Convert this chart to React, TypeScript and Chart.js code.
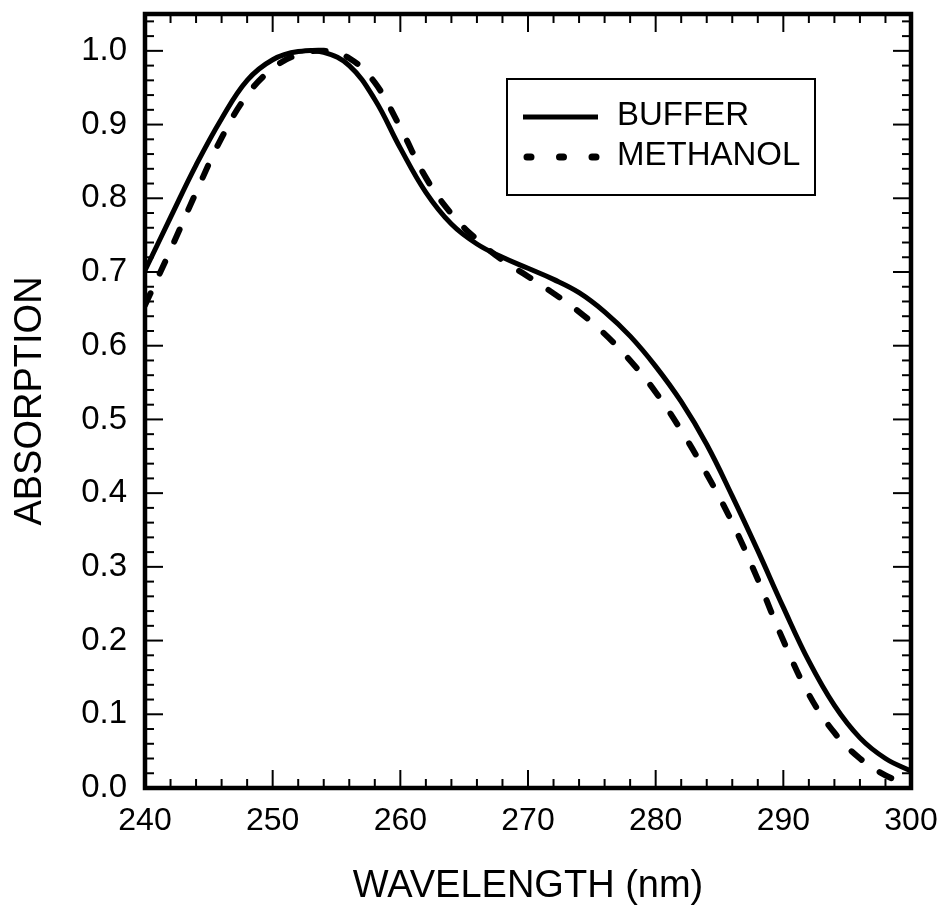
import React, { useEffect, useRef } from "react";
import { Chart, registerables } from "chart.js";

Chart.register(...registerables);

// ---- data ----
const bufferWavelengths = [240, 242, 244, 246, 248, 250, 252, 254, 256, 258, 260, 262, 264, 266, 268, 270, 272, 274, 276, 278, 280, 282, 284, 286, 288, 290, 292, 294, 296, 298, 300];
const bufferAbsorption = [0.702, 0.774, 0.845, 0.908, 0.96, 0.988, 0.999, 0.998, 0.98, 0.934, 0.868, 0.808, 0.765, 0.738, 0.72, 0.705, 0.69, 0.672, 0.646, 0.613, 0.572, 0.524, 0.466, 0.396, 0.322, 0.245, 0.172, 0.112, 0.068, 0.04, 0.023];

const methanolWavelengths = [240, 242, 244, 246, 248, 250, 252, 254, 256, 258, 260, 262, 264, 266, 268, 270, 272, 274, 276, 278, 280, 282, 284, 286, 288, 290, 292, 294, 296, 298, 299];
const methanolAbsorption = [0.655, 0.73, 0.808, 0.882, 0.94, 0.976, 0.995, 1.0, 0.99, 0.957, 0.896, 0.828, 0.779, 0.744, 0.716, 0.694, 0.671, 0.646, 0.616, 0.58, 0.537, 0.485, 0.426, 0.36, 0.283, 0.2, 0.127, 0.075, 0.04, 0.017, 0.01];

const seriesLabels = ["BUFFER", "METHANOL"];
const xTickValues = [240, 250, 260, 270, 280, 290, 300];
const xTickLabels = ["240", "250", "260", "270", "280", "290", "300"];
const yTickValues = [0, 0.1, 0.2, 0.3, 0.4, 0.5, 0.6, 0.7, 0.8, 0.9, 1.0];
const yTickLabels = ["0.0", "0.1", "0.2", "0.3", "0.4", "0.5", "0.6", "0.7", "0.8", "0.9", "1.0"];
const xTitle = "WAVELENGTH (nm)";
const yTitle = "ABSORPTION";

const xMin = 240, xMax = 300, xMinorStep = 2, xMajorStep = 10;
const yMin = 0, yMax = 1.05, yMinorStep = 0.02, yMajorStep = 0.1;

const FONT = "'Liberation Sans', Arial, Helvetica, sans-serif";

const toPoints = (xs: number[], ys: number[]) => xs.map((x, i) => ({ x, y: ys[i] }));

const framePlugin = {
  id: "frameTicksLegend",
  afterDatasetsDraw(chart: any) {
    const { ctx, chartArea: a, scales } = chart;
    const xs = scales.x, ys = scales.y;
    ctx.save();
    ctx.strokeStyle = "#000";
    ctx.lineCap = "butt";
    ctx.lineWidth = 2;
    const seg = (x1: number, y1: number, x2: number, y2: number) => {
      ctx.beginPath();
      ctx.moveTo(x1, y1);
      ctx.lineTo(x2, y2);
      ctx.stroke();
    };
    const nX = Math.round((xMax - xMin) / xMinorStep);
    for (let i = 0; i <= nX; i++) {
      const v = xMin + i * xMinorStep;
      const px = xs.getPixelForValue(v);
      const major = Math.abs(v / xMajorStep - Math.round(v / xMajorStep)) < 1e-6;
      const len = major ? 18 : 9;
      seg(px, a.bottom, px, a.bottom - len);
      seg(px, a.top, px, a.top + len);
    }
    const nY = Math.floor((yMax - yMin) / yMinorStep + 1e-6);
    for (let i = 0; i <= nY; i++) {
      const v = yMin + i * yMinorStep;
      const py = ys.getPixelForValue(v);
      const major = Math.abs(v / yMajorStep - Math.round(v / yMajorStep)) < 1e-6;
      const len = major ? 18 : 9;
      seg(a.left, py, a.left + len, py);
      seg(a.right, py, a.right - len, py);
    }
    ctx.lineWidth = 4.5;
    ctx.strokeRect(a.left, a.top, a.right - a.left, a.bottom - a.top);

    // legend
    const lx = a.left + 362, ly = a.top + 65, lw = 308, lh = 116;
    ctx.lineWidth = 2;
    ctx.strokeRect(lx, ly, lw, lh);
    const ds = chart.data.datasets;
    ctx.strokeStyle = ds[0].borderColor;
    ctx.lineWidth = 5;
    ctx.setLineDash([]);
    seg(lx + 16, ly + 38, lx + 91, ly + 38);
    ctx.lineWidth = 7;
    ctx.lineCap = "round";
    ctx.setLineDash([4, 28.5]);
    seg(lx + 20, ly + 78, lx + 94, ly + 78);
    ctx.setLineDash([]);
    ctx.fillStyle = "#000";
    ctx.font = `33px ${FONT}`;
    ctx.textAlign = "left";
    ctx.textBaseline = "middle";
    ctx.fillText(ds[0].label, lx + 110, ly + 37);
    ctx.fillText(ds[1].label, lx + 110, ly + 77);
    ctx.restore();
  },
};

export default function App() {
  const canvasRef = useRef<HTMLCanvasElement | null>(null);

  useEffect(() => {
    if (!canvasRef.current) return;
    const chart = new Chart(canvasRef.current, {
      type: "line",
      data: {
        datasets: [
          {
            label: seriesLabels[0],
            data: toPoints(bufferWavelengths, bufferAbsorption),
            borderColor: "#000",
            borderWidth: 5,
            pointRadius: 0,
            tension: 0.4,
            fill: false,
          },
          {
            label: seriesLabels[1],
            data: toPoints(methanolWavelengths, methanolAbsorption),
            borderColor: "#000",
            borderWidth: 6,
            borderDash: [13, 22],
            borderCapStyle: "round",
            pointRadius: 0,
            tension: 0.4,
            fill: false,
          },
        ],
      },
      options: {
        responsive: false,
        animation: false,
        devicePixelRatio: 1,
        layout: { padding: { left: 0, top: 14, right: 34, bottom: 0 } },
        plugins: { legend: { display: false }, tooltip: { enabled: false } },
        scales: {
          x: {
            type: "linear",
            min: xMin,
            max: xMax,
            afterFit: (s: any) => {
              s.height = 129;
              s.paddingLeft = 0;
              s.paddingRight = 0;
            },
            afterBuildTicks: (s: any) => { s.ticks = xTickValues.map((v) => ({ value: v })); },
            ticks: {
              color: "#000",
              font: { family: FONT, size: 32 },
              padding: 14,
              maxRotation: 0,
              autoSkip: false,
              callback: (v: any) => { const i = xTickValues.indexOf(Number(v)); return i >= 0 ? xTickLabels[i] : ""; },
            },
            grid: { display: false, drawTicks: false },
            border: { display: false },
            title: { display: true, text: xTitle, color: "#000", font: { family: FONT, size: 38 }, padding: { top: 0, bottom: 8 } },
          },
          y: {
            type: "linear",
            min: yMin,
            max: yMax,
            afterFit: (s: any) => {
              s.width = 145;
              s.paddingTop = 0;
              s.paddingBottom = 0;
            },
            afterBuildTicks: (s: any) => { s.ticks = yTickValues.map((v) => ({ value: v })); },
            ticks: {
              color: "#000",
              font: { family: FONT, size: 33 },
              padding: 18,
              autoSkip: false,
              callback: (v: any) => {
                const i = yTickValues.findIndex((t) => Math.abs(t - Number(v)) < 1e-6);
                return i >= 0 ? yTickLabels[i] : "";
              },
            },
            grid: { display: false, drawTicks: false },
            border: { display: false },
            title: { display: true, text: yTitle, color: "#000", font: { family: FONT, size: 38 }, padding: { top: 8, bottom: 0 } },
          },
        },
      },
      plugins: [framePlugin],
    } as any);
    return () => chart.destroy();
  }, []);

  return (
    <div style={{ position: "absolute", left: 0, top: 0, width: 945, height: 917, background: "#fff" }}>
      <canvas ref={canvasRef} width={945} height={917} />
    </div>
  );
}
